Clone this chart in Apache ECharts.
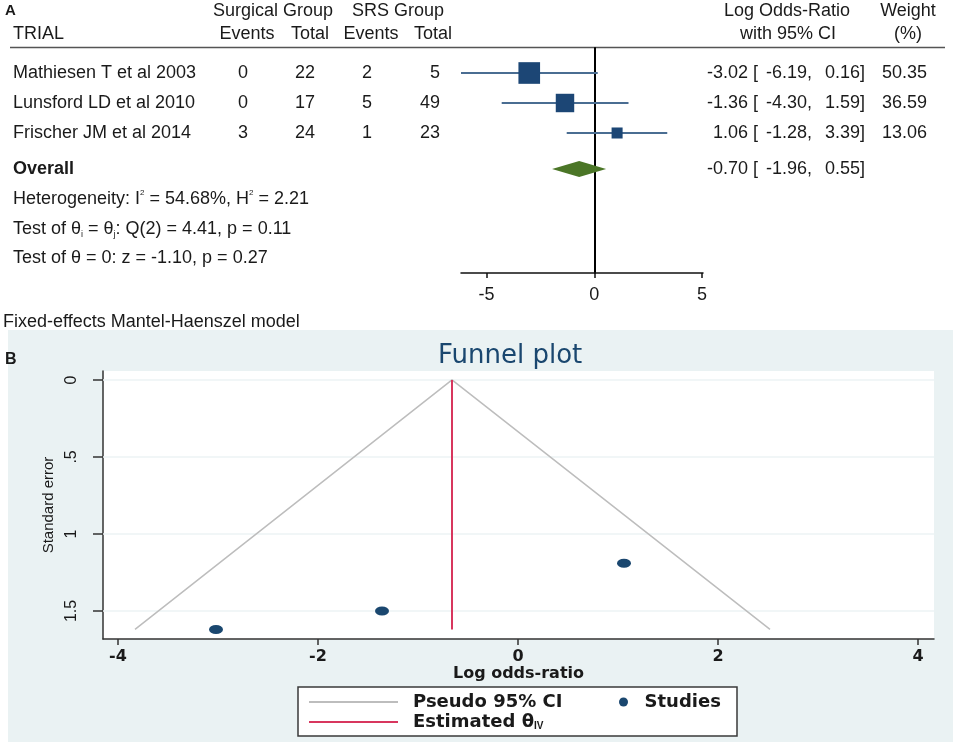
<!DOCTYPE html>
<html>
<head>
<meta charset="utf-8">
<script src="https://cdn.jsdelivr.net/npm/echarts@6/dist/echarts.min.js"></script>
<style>
  html, body { margin: 0; padding: 0; background: #fff; }
  #chart { width: 957px; height: 746px; }
</style>
</head>
<body>
<div id="chart"></div>
<script>
// ---- panel A: forest plot data ----
const trials = ['Mathiesen T et al 2003', 'Lunsford LD et al 2010', 'Frischer JM et al 2014'];
const surgEvents = [0, 0, 3];
const surgTotal = [22, 17, 24];
const srsEvents = [2, 5, 1];
const srsTotal = [5, 49, 23];
const logOR = [-3.02, -1.36, 1.06];
const ciLow = [-6.19, -4.30, -1.28];
const ciHigh = [0.16, 1.59, 3.39];
const weights = [50.35, 36.59, 13.06];
const overallEst = -0.70;
const overallLow = -1.96;
const overallHigh = 0.55;
const forestTicks = [-5, 0, 5];

// ---- panel B: funnel plot data ----
const studySE = [1.62, 1.50, 1.19];
const thetaIV = -0.66;
const funnelX = [-3.83, -0.66, 2.52];
const funnelSE = [1.62, 0, 1.62];
const funnelXTicks = [-4, -2, 0, 2, 4];
const funnelYTicks = [0, 0.5, 1, 1.5];
const funnelYLabels = ['0', '.5', '1', '1.5'];

// layout helpers
const OVERALL_ROW = 4.2;
const ARIAL = '"Liberation Sans", Arial, sans-serif';
const WIDE = '"DejaVu Sans", Verdana, sans-serif';
const INK = '#1a1a1a';
const NAVY = '#1a476f';

function txt(text, x, y, align, opts) {
  opts = opts || {};
  return {
    type: 'text', x: x, y: y, silent: true,
    style: {
      text: text, align: align || 'left', verticalAlign: 'middle',
      font: (opts.bold ? 'bold ' : '') + (opts.size || 18) + 'px ' + (opts.family || ARIAL),
      fill: opts.color || INK, rich: opts.rich, lineHeight: opts.lineHeight
    }
  };
}

const subRich = {
  sub: { fontSize: 9, fontFamily: ARIAL, verticalAlign: 'bottom', fill: INK, color: INK },
  sup: { fontSize: 8, fontFamily: ARIAL, verticalAlign: 'top', fill: INK, color: INK }
};

var chart = echarts.init(document.getElementById('chart'), null, { renderer: 'canvas' });

// table text drawn per row on the forest y scale
function renderTableRow(params, api) {
  const i = params.dataIndex;
  const y = api.coord([0, api.value(0)])[1];
  const f = (v) => v.toFixed(2);
  const children = [];
  if (i < trials.length) {
    children.push(txt(trials[i], 13, y, 'left'));
    children.push(txt(String(surgEvents[i]), 243, y, 'center'));
    children.push(txt(String(surgTotal[i]), 315, y, 'right'));
    children.push(txt(String(srsEvents[i]), 367, y, 'center'));
    children.push(txt(String(srsTotal[i]), 440, y, 'right'));
    children.push(txt(f(logOR[i]), 748, y, 'right'));
    children.push(txt('[', 753, y, 'left'));
    children.push(txt(f(ciLow[i]) + ',', 812, y, 'right'));
    children.push(txt(f(ciHigh[i]) + ']', 865, y, 'right'));
    children.push(txt(f(weights[i]), 927, y, 'right'));
  } else {
    children.push(txt('Overall', 13, y, 'left', { bold: true }));
    children.push(txt(f(overallEst), 748, y, 'right'));
    children.push(txt('[', 753, y, 'left'));
    children.push(txt(f(overallLow) + ',', 812, y, 'right'));
    children.push(txt(f(overallHigh) + ']', 865, y, 'right'));
  }
  return { type: 'group', children: children };
}

const tableRows = trials.map((t, i) => [i + 1]).concat([[OVERALL_ROW]]);

var option = {
  animation: false,
  backgroundColor: '#ffffff',
  title: {
    text: 'Funnel plot', left: 438, top: 343, padding: 0,
    textStyle: { fontFamily: WIDE, fontSize: 26, fontWeight: 'normal', color: NAVY }
  },
  grid: [
    { left: 461, top: 48, width: 242, height: 225 },
    { left: 103, top: 371, width: 831, height: 268, show: true, backgroundColor: '#ffffff', borderWidth: 0 }
  ],
  xAxis: [
    {
      gridIndex: 0, type: 'value', min: -6.19, max: 5.05,
      axisLine: { onZero: false, lineStyle: { color: '#111', width: 1.5 } },
      axisTick: { customValues: forestTicks, length: 5, lineStyle: { color: '#111', width: 1.5 } },
      axisLabel: { customValues: forestTicks, margin: 13, fontFamily: ARIAL, fontSize: 18, color: INK },
      splitLine: { show: false }
    },
    {
      gridIndex: 1, type: 'value', min: -4.15, max: 4.16,
      name: 'Log odds-ratio', nameLocation: 'middle', nameGap: 26,
      nameTextStyle: { fontFamily: WIDE, fontSize: 16, fontWeight: 'bold', color: INK },
      axisLine: { onZero: false, lineStyle: { color: '#333', width: 1.5 } },
      axisTick: { customValues: funnelXTicks, length: 6, lineStyle: { color: '#333', width: 1.5 } },
      axisLabel: { customValues: funnelXTicks, margin: 10, fontFamily: WIDE, fontSize: 16, fontWeight: 'bold', color: INK },
      splitLine: { show: false }
    }
  ],
  yAxis: [
    {
      gridIndex: 0, type: 'value', inverse: true, min: 1 / 6, max: 7.667,
      axisLine: { onZero: true, lineStyle: { color: '#000', width: 2 } },
      axisTick: { show: false }, axisLabel: { show: false }, splitLine: { show: false }
    },
    {
      gridIndex: 1, type: 'value', inverse: true, min: -0.058, max: 1.682,
      name: 'Standard error', nameLocation: 'middle', nameGap: 44,
      nameTextStyle: { fontFamily: ARIAL, fontSize: 15, color: INK },
      axisLine: { onZero: false, lineStyle: { color: '#333', width: 1.5 } },
      axisTick: { customValues: funnelYTicks, length: 10, lineStyle: { color: '#333', width: 1.5 } },
      axisLabel: {
        customValues: funnelYTicks, rotate: 90, margin: 23,
        fontFamily: ARIAL, fontSize: 16, color: INK,
        formatter: (v) => funnelYLabels[funnelYTicks.indexOf(v)]
      },
      splitLine: { show: false }
    }
  ],
  legend: [
    {
      data: ['Pseudo 95% CI', 'Estimated θIV'], orient: 'vertical', z: 10, icon: 'rect',
      left: 309, top: 693, padding: 0, itemGap: 2, itemWidth: 89, itemHeight: 2,
      selectedMode: false,
      formatter: (n) => n === 'Estimated θIV' ? 'Estimated θ{sub|IV}' : n,
      textStyle: {
        fontFamily: WIDE, fontSize: 18, fontWeight: 'bold', color: INK, padding: [0, 0, 0, 10],
        rich: { sub: { fontFamily: ARIAL, fontSize: 10, verticalAlign: 'bottom', padding: [6, 0, 0, 0], color: INK } }
      }
    },
    {
      data: [{ name: 'Studies', icon: 'path://M0,5 A5,5 0 1,1 10,5 A5,5 0 1,1 0,5 Z' }],
      left: 619, top: 693, padding: 0, itemWidth: 12, itemHeight: 9, z: 10,
      selectedMode: false,
      textStyle: { fontFamily: WIDE, fontSize: 18, fontWeight: 'bold', color: INK, padding: [0, 0, 0, 10] }
    }
  ],
  graphic: [
    // panel B background and legend box
    { type: 'rect', z: -10, silent: true, shape: { x: 8, y: 330, width: 945, height: 412 }, style: { fill: '#eaf2f3' } },
    { type: 'rect', z: -5, silent: true, shape: { x: 298, y: 687, width: 439, height: 49 }, style: { fill: '#ffffff', stroke: '#3a3a3a', lineWidth: 1.5 } },
    // panel A header rule
    { type: 'line', silent: true, shape: { x1: 10, y1: 47.5, x2: 945, y2: 47.5 }, style: { stroke: '#555', lineWidth: 1.5 } },
    txt('A', 5, 11, 'left', { bold: true, size: 15 }),
    txt('B', 5, 360, 'left', { bold: true, size: 16 }),
    txt('Surgical Group', 273, 11, 'center'),
    txt('SRS Group', 398, 11, 'center'),
    txt('Log Odds-Ratio', 787, 11, 'center'),
    txt('Weight', 908, 11, 'center'),
    txt('TRIAL', 13, 34, 'left'),
    txt('Events', 247, 34, 'center'),
    txt('Total', 310, 34, 'center'),
    txt('Events', 371, 34, 'center'),
    txt('Total', 433, 34, 'center'),
    txt('with 95% CI', 788, 34, 'center'),
    txt('(%)', 908, 34, 'center'),
    txt('Heterogeneity: I{sup|2} = 54.68%, H{sup|2} = 2.21', 13, 199, 'left', { rich: subRich, lineHeight: 20 }),
    txt('Test of θ{sub|i} = θ{sub|j}: Q(2) = 4.41, p = 0.11', 13, 229, 'left', { rich: subRich, lineHeight: 20 }),
    txt('Test of θ = 0: z = -1.10, p = 0.27', 13, 258, 'left'),
    txt('Fixed-effects Mantel-Haenszel model', 3, 322, 'left')
  ],
  series: [
    // ---- forest plot ----
    {
      name: 'ci', type: 'custom', xAxisIndex: 0, yAxisIndex: 0, silent: true, clip: false,
      data: trials.map((t, i) => [ciLow[i], ciHigh[i], i + 1]),
      encode: { x: [0, 1], y: 2 },
      renderItem: function (params, api) {
        const y = api.value(2);
        const p1 = api.coord([api.value(0), y]);
        const p2 = api.coord([api.value(1), y]);
        return {
          type: 'line',
          shape: { x1: p1[0], y1: p1[1], x2: p2[0], y2: p2[1] },
          style: { stroke: '#4a6d92', lineWidth: 1.8 }
        };
      }
    },
    {
      name: 'estimates', type: 'scatter', xAxisIndex: 0, yAxisIndex: 0, silent: true, z: 3,
      symbol: 'rect',
      symbolSize: (v) => 3.05 * Math.sqrt(v[2]),
      itemStyle: { color: '#1c4675', opacity: 1 },
      data: trials.map((t, i) => [logOR[i], i + 1, weights[i]])
    },
    {
      name: 'overall', type: 'custom', xAxisIndex: 0, yAxisIndex: 0, silent: true, z: 3, clip: false,
      data: [[overallLow, overallEst, overallHigh, OVERALL_ROW]],
      encode: { x: [0, 1, 2], y: 3 },
      renderItem: function (params, api) {
        const y = api.value(3);
        const l = api.coord([api.value(0), y]);
        const m = api.coord([api.value(1), y]);
        const r = api.coord([api.value(2), y]);
        return {
          type: 'polygon',
          shape: { points: [[l[0], l[1]], [m[0], m[1] - 8], [r[0], r[1]], [m[0], m[1] + 8]] },
          style: { fill: '#4b7627' }
        };
      }
    },
    {
      name: 'table', type: 'custom', xAxisIndex: 0, yAxisIndex: 0, silent: true, clip: false,
      data: tableRows,
      encode: { y: 0 },
      renderItem: renderTableRow
    },
    // ---- funnel plot ----
    {
      name: 'Pseudo 95% CI', type: 'line', xAxisIndex: 1, yAxisIndex: 1, silent: true,
      symbol: 'none', color: '#bdbdbd',
      itemStyle: { color: '#bdbdbd' },
      lineStyle: { color: '#bdbdbd', width: 1.5 },
      data: funnelX.map((x, i) => [x, funnelSE[i]]),
      markLine: {
        silent: true, z: 1, symbol: 'none', label: { show: false },
        lineStyle: { color: '#edf3f4', width: 1.5, type: 'solid' },
        data: funnelYTicks.map((v) => ({ yAxis: v }))
      }
    },
    {
      name: 'Estimated θIV', type: 'line', xAxisIndex: 1, yAxisIndex: 1, silent: true,
      symbol: 'none', color: '#d8365e',
      itemStyle: { color: '#d8365e' },
      lineStyle: { color: '#d8365e', width: 2 },
      data: [[thetaIV, 0], [thetaIV, funnelSE[0]]]
    },
    {
      name: 'Studies', type: 'scatter', xAxisIndex: 1, yAxisIndex: 1, silent: true, z: 4,
      symbol: 'path://M0,5 A5,5 0 1,1 10,5 A5,5 0 1,1 0,5 Z',
      symbolSize: [14, 9],
      itemStyle: { color: NAVY, opacity: 1 },
      data: logOR.map((x, i) => [x, studySE[i]])
    }
  ]
};

chart.setOption(option);
</script>
</body>
</html>
